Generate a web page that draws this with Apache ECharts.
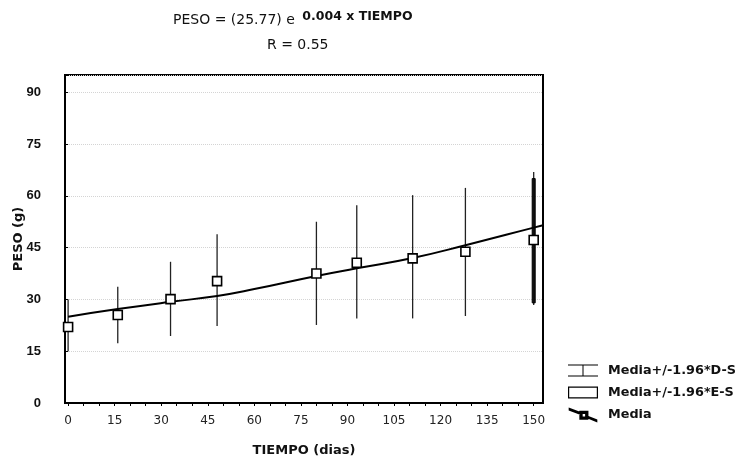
<!DOCTYPE html>
<html>
<head>
<meta charset="utf-8">
<script src="https://cdn.jsdelivr.net/npm/echarts@6/dist/echarts.min.js"></script>
<style>
  html, body { margin: 0; padding: 0; background: #fff; }
  #chart { width: 738px; height: 459px; }
</style>
</head>
<body>
<div id="chart"></div>
<script>
// dias de muestreo y estadisticos
const dias = [0, 16, 33, 48, 80, 93, 111, 128, 150]
const media = [22, 25.5, 30.1, 35.3, 37.5, 40.6, 41.9, 43.8, 47.2]
const dsLow = [15, 17.3, 19.4, 22.3, 22.6, 24.5, 24.5, 25.2, 28.4]
const dsHigh = [30, 33.7, 40.9, 48.9, 52.5, 57.3, 60.2, 62.3, 66.9]
const esLow = [21, 24.5, 29, 34.2, 36.4, 39.5, 40.8, 42.7, 29]
const esHigh = [23, 26.5, 31.2, 36.4, 38.6, 41.7, 43, 44.9, 65]
// curva ajustada
const ajusteX = [0, 16, 33, 48, 60, 80, 93, 111, 128, 150, 153]
const ajusteY = [25, 27.2, 29.3, 31, 33, 36.8, 39, 42, 45.7, 50.8, 51.5]
const xTicks = [0, 15, 30, 45, 60, 75, 90, 105, 120, 135, 150]
const xMinor = [0, 5, 10, 15, 20, 25, 30, 35, 40, 45, 50, 55, 60, 65, 70, 75, 80, 85, 90, 95, 100, 105, 110, 115, 120, 125, 130, 135, 140, 145, 150]

const sans = '"DejaVu Sans", sans-serif'
const lib = '"Liberation Sans", Arial, sans-serif'

let chart = echarts.init(document.getElementById('chart'))

let dsData = dias.map((d, i) => [d, dsLow[i], dsHigh[i]])
let esData = dias.map((d, i) => [d, esLow[i], esHigh[i]])

let option = {
  animation: false,
  backgroundColor: '#fff',
  title: [
    {
      text: '{a|PESO = (25.77) e }{b|0.004 x TIEMPO}',
      left: 168,
      top: 5,
      textStyle: {
        fontWeight: 'normal',
        rich: {
          a: { fontFamily: sans, fontSize: 14, fontWeight: 'normal', color: '#111', lineHeight: 20 },
          b: { fontFamily: sans, fontSize: 12.5, fontWeight: 'bold', color: '#111', padding: [0, 0, 8, 3] }
        }
      }
    },
    {
      text: 'R = 0.55',
      left: 262,
      top: 33,
      textStyle: { fontFamily: sans, fontSize: 14, fontWeight: 'normal', color: '#111' }
    }
  ],
  grid: {
    left: 65,
    right: 195,
    top: 75,
    bottom: 56,
    outerBoundsMode: 'none',
    show: true,
    borderColor: '#000',
    borderWidth: 2,
    backgroundColor: 'transparent'
  },
  legend: {
    orient: 'vertical',
    left: 563,
    top: 359,
    itemGap: 9,
    itemWidth: 30,
    itemHeight: 12,
    textStyle: { fontFamily: sans, fontSize: 12.8, fontWeight: 'bold', color: '#111', padding: [0, 0, 0, 5] },
    data: [
      {
        name: 'Media+/-1.96*D-S',
        icon: 'path://M0,0h30v1h-30z M14.5,0h1v12h-1z M0,11h30v1h-30z',
        itemStyle: { color: '#000' }
      },
      {
        name: 'Media+/-1.96*E-S',
        icon: 'path://M0,0h30v12h-30z M1.2,1.2v9.6h27.6v-9.6z',
        itemStyle: { color: '#000' }
      },
      {
        name: 'Media',
        icon: 'path://M0,0L12,4.5L12,5.5L0,1Z M12,3h8v8h-8z M13.5,4.5v5h5v-5z M20,8.5L30,12.5L30,13.5L20,9.5Z',
        itemStyle: { color: '#000' }
      }
    ]
  },
  xAxis: [
    {
      type: 'value',
      min: -1,
      max: 153,
      name: 'TIEMPO (dias)',
      nameLocation: 'middle',
      nameGap: 41,
      nameMoveOverlap: false,
      nameTextStyle: { fontFamily: sans, fontSize: 13, fontWeight: 'bold', color: '#111' },
      axisLine: { show: true, onZero: false, lineStyle: { color: '#000', width: 2 } },
      axisTick: { show: false },
      axisLabel: {
        customValues: xTicks,
        fontFamily: sans,
        fontSize: 12,
        color: '#222',
        margin: 12
      },
      splitLine: { show: false }
    },
    {
      type: 'value',
      position: 'top',
      min: -1,
      max: 153,
      axisLine: { show: false },
      axisTick: { show: true, inside: true, length: 3, customValues: xMinor, lineStyle: { color: '#000' } },
      axisLabel: { show: false },
      splitLine: { show: false }
    }
  ],
  yAxis: [
    {
      type: 'value',
      min: 0,
      max: 95,
      interval: 15,
      name: 'PESO (g)',
      nameLocation: 'middle',
      nameGap: 40,
      nameMoveOverlap: false,
      nameTextStyle: { fontFamily: sans, fontSize: 13, fontWeight: 'bold', color: '#111' },
      axisLine: { show: true, onZero: false, lineStyle: { color: '#000', width: 2 } },
      axisTick: { show: true, inside: true, length: 3, lineStyle: { color: '#000' } },
      axisLabel: {
        showMaxLabel: false,
        fontFamily: lib,
        fontSize: 13,
        fontWeight: 'bold',
        color: '#111',
        margin: 24
      },
      splitLine: { show: true, lineStyle: { type: 'dotted', color: '#d4d4d4', width: 1 } }
    },
    {
      type: 'value',
      position: 'right',
      min: 0,
      max: 95,
      interval: 15,
      axisLine: { show: false },
      axisTick: { show: true, inside: true, length: 3, lineStyle: { color: '#000' } },
      axisLabel: { show: false },
      splitLine: { show: false }
    }
  ],
  series: [
    {
      name: 'Media+/-1.96*D-S',
      type: 'custom',
      xAxisIndex: 0,
      yAxisIndex: 0,
      encode: { x: 0, y: [1, 2] },
      data: dsData,
      z: 2,
      renderItem: function (params, api) {
        let lo = api.coord([api.value(0), api.value(1)])
        let hi = api.coord([api.value(0), api.value(2)])
        return {
          type: 'line',
          shape: { x1: lo[0], y1: lo[1], x2: hi[0], y2: hi[1] },
          style: { stroke: '#222', lineWidth: 1.3 }
        }
      }
    },
    {
      name: 'Media+/-1.96*E-S',
      type: 'custom',
      xAxisIndex: 0,
      yAxisIndex: 0,
      encode: { x: 0, y: [1, 2] },
      data: esData,
      z: 3,
      renderItem: function (params, api) {
        let lo = api.coord([api.value(0), api.value(1)])
        let hi = api.coord([api.value(0), api.value(2)])
        return {
          type: 'rect',
          shape: { x: lo[0] - 1.5, y: hi[1], width: 3, height: lo[1] - hi[1] },
          style: { fill: '#111', stroke: '#000', lineWidth: 1 }
        }
      }
    },
    {
      name: 'Ajuste',
      type: 'line',
      xAxisIndex: 0,
      yAxisIndex: 0,
      smooth: true,
      symbol: 'none',
      lineStyle: { color: '#000', width: 2 },
      data: ajusteX.map((x, i) => [x, ajusteY[i]]),
      z: 4
    },
    {
      name: 'Media',
      type: 'scatter',
      xAxisIndex: 0,
      yAxisIndex: 0,
      symbol: 'rect',
      symbolSize: 9,
      itemStyle: { color: '#fff', borderColor: '#000', borderWidth: 1.6, opacity: 1 },
      data: dias.map((d, i) => [d, media[i]]),
      z: 5
    }
  ]
}

chart.setOption(option)
</script>
</body>
</html>
